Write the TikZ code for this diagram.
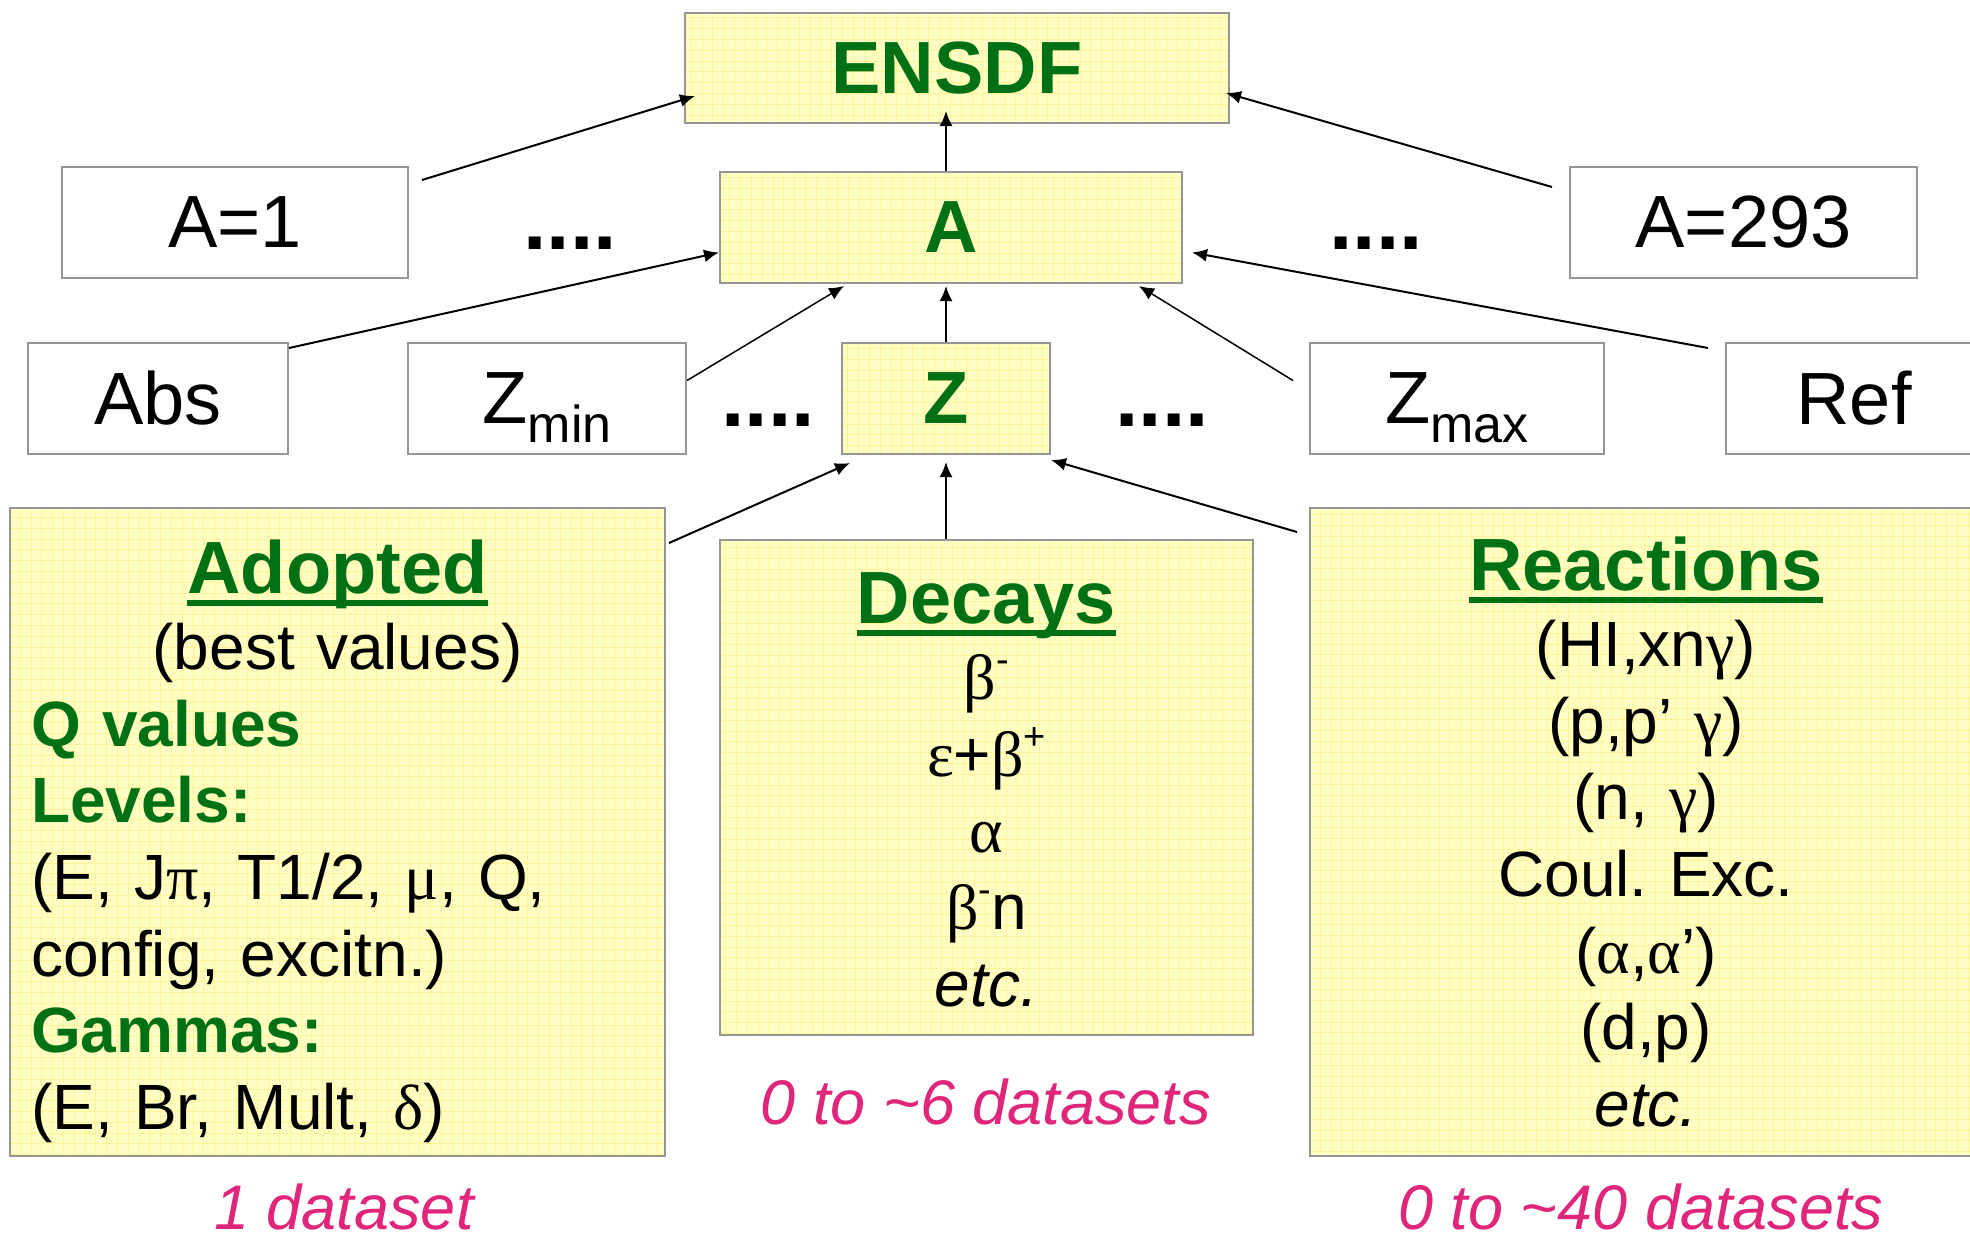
\documentclass[tikz,border=0pt]{standalone}
\usepackage{fontspec}
\setmainfont{Liberation Sans}
\newfontfamily\grk{Liberation Serif}
\usetikzlibrary{positioning}
\usetikzlibrary{arrows.meta}
\frenchspacing

\definecolor{dbgreen}{RGB}{0,112,20}
\definecolor{dbpink}{RGB}{224,38,122}
\definecolor{padfill}{RGB}{255,255,196}
\definecolor{padline}{RGB}{255,245,150}
\definecolor{boxframe}{RGB}{150,150,150}

\newcommand{\gk}[1]{{\grk #1}}
\newcommand{\hisc}[1]{\raisebox{27pt}{\fontsize{38}{38}\selectfont #1}}
\newcommand{\losc}[1]{\raisebox{-19pt}[0pt][0pt]{\fontsize{52}{52}\selectfont #1}}
\newcommand{\ulhead}[1]{{\color{dbgreen}\fontsize{74}{76.6}\selectfont\bfseries
    \setbox0\hbox{#1}\rlap{\rule[-13pt]{\wd0}{6pt}}\box0}}
\newcommand{\lblfont}{\fontsize{74}{80}\selectfont}
\newcommand{\txtfont}{\fontsize{64}{76.6}\selectfont}

\begin{document}
\begin{tikzpicture}[->, x=1pt, y=-1pt,
            >={Latex[length=15pt,width=13pt]},
            outbox/.style = {draw=boxframe,line width=2pt,fill=white,
                inner sep=0pt,font=\lblfont},
            padbox/.style = {draw=boxframe,line width=2pt,fill=padfill,inner sep=0pt,
                path picture={\draw[-,padline,line width=0.8pt]
                    (path picture bounding box.south west) grid[step=10.8pt]
                    (path picture bounding box.north east);}},
            titlebox/.style = {padbox,text=dbgreen,font=\lblfont\bfseries},
            dots/.style = {anchor=base,font=\fontsize{84}{84}\selectfont\bfseries},
            note/.style = {anchor=base,text=dbpink,font=\fontsize{63}{70}\selectfont\itshape},
            link/.style = {line width=2pt}]
            \useasboundingbox (0,0) rectangle (1970,1239);
            \node[titlebox, minimum width=544pt, minimum height=110pt](ensdf) at (957,68) {ENSDF};
            \node[outbox, minimum width=346pt, minimum height=111pt](a1) at (235,222.5) {A=1};
            \node[titlebox, minimum width=462pt, minimum height=111pt](amass) at (951,227.5) {A};
            \node[outbox, minimum width=347pt, minimum height=111pt](a293) at (1743.5,222.5) {A=293};
            \node[dots](dotsa) at (570,249) {....};
            \node[dots](dotsb) at (1376,249) {....};
            \node[outbox, minimum width=260pt, minimum height=111pt](abs) at (158,398.5) {Abs};
            \node[outbox, minimum width=278pt, minimum height=111pt](zmin) at (547,398.5) {Z\losc{min}};
            \node[titlebox, minimum width=208pt, minimum height=111pt](znum) at (946,398.5) {Z};
            \node[outbox, minimum width=294pt, minimum height=111pt](zmax) at (1457,398.5) {Z\losc{max}};
            \node[outbox, minimum width=256pt, minimum height=111pt](ref) at (1854,398.5) {Ref};
            \node[dots](dotsc) at (768,426) {....};
            \node[dots](dotsd) at (1162,426) {....};
            \node[padbox, minimum width=655pt, minimum height=648pt, text width=613pt,
                text height=54pt, text depth=532pt, font=\txtfont](adopted) at (337.5,832) {%
                {\centering\ulhead{Adopted}\par (best values)\par}
                \raggedright
                {\color{dbgreen}\bfseries Q values}\par
                {\color{dbgreen}\bfseries Levels:}\par
                (E, J\gk{π}, T1/2, \gk{μ}, Q,\par
                config, excitn.)\par
                {\color{dbgreen}\bfseries Gammas:}\par
                (E, Br, Mult, \gk{δ})};
            \node[padbox, minimum width=533pt, minimum height=495pt, text width=500pt,
                text height=54pt, text depth=383pt, align=center, font=\txtfont](decays) at (986.5,787.5) {%
                \ulhead{Decays}\\
                \gk{β}\hisc{-}\\
                \gk{ε}+\gk{β}\hisc{+}\\
                \gk{α}\\
                \gk{β}\hisc{-}n\\
                \textit{etc.}};
            \node[padbox, minimum width=672pt, minimum height=648pt, text width=630pt,
                text height=54pt, text depth=538pt, align=center, font=\txtfont](reactions) at (1646,832) {%
                \ulhead{Reactions}\\
                (HI,xn\gk{γ})\\
                (p,p’ \gk{γ})\\
                (n, \gk{γ})\\
                Coul.\ Exc.\\
                (\gk{α},\gk{α}’)\\
                (d,p)\\
                \textit{etc.}};
            \node[note](onedata) at (344,1229) {1 dataset};
            \node[note](decdata) at (986,1124) {0 to \textasciitilde 6 datasets};
            \node[note](reacdata) at (1641,1229) {0 to \textasciitilde 40 datasets};
            \path[link]
                ([xshift=13pt,yshift=-14pt]a1.north east) edge ([xshift=11pt,yshift=-28pt]ensdf.west)
                ([xshift=-17pt,yshift=-21pt]a293.north west) edge ([xshift=-4pt,yshift=-25pt]ensdf.east)
                ([xshift=-5pt]amass.north) edge ([xshift=-11pt,yshift=13pt]ensdf.south)
                ([yshift=-6pt]abs.north east) edge ([yshift=-25pt]amass.west)
                ([xshift=-17pt,yshift=-6pt]ref.north west) edge ([xshift=9pt,yshift=-25pt]amass.east)
                (znum.north) edge ([xshift=-5pt,yshift=-2pt]amass.south)
                ([xshift=3pt,yshift=-36pt]adopted.north east) edge ([xshift=9pt,yshift=-8pt]znum.south west)
                ([xshift=-40.5pt]decays.north) edge ([yshift=-7pt]znum.south)
                ([xshift=-12pt,yshift=-25pt]reactions.north west) edge ([yshift=-5pt]znum.south east);
            \path[link, line width=1.5pt]
                ([yshift=18pt]zmin.east) edge ([xshift=-107pt,yshift=-2pt]amass.south)
                ([xshift=-16pt,yshift=18pt]zmax.west) edge ([xshift=188pt,yshift=-2pt]amass.south);
        \end{tikzpicture}
\end{document}
